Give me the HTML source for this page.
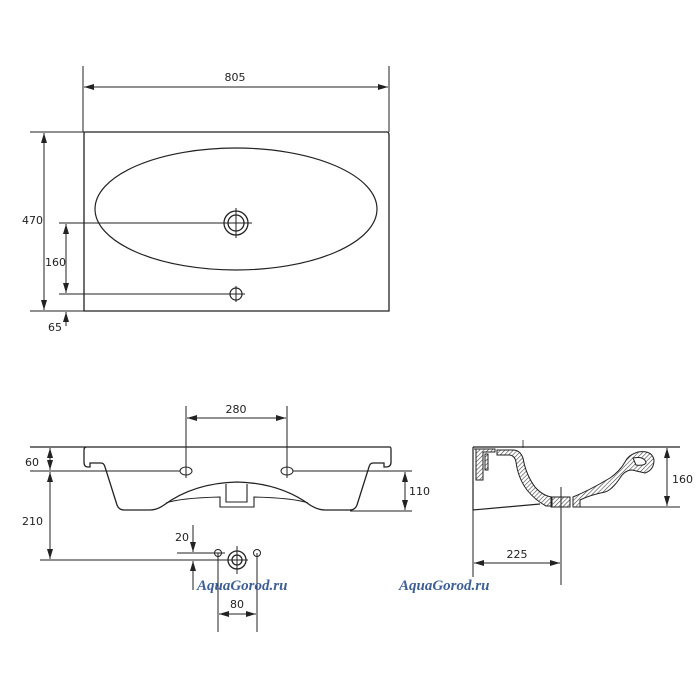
<!DOCTYPE html>
<html><head><meta charset="utf-8"><style>
html,body{margin:0;padding:0;background:#fff;}
svg{display:block}
text{font-family:"DejaVu Sans","Liberation Sans",sans-serif;font-size:11px;fill:#222}
.wm{font-family:"Liberation Serif",serif;font-style:italic;font-weight:bold;font-size:15px;fill:#3d5f93}
</style></head><body>
<svg width="700" height="700" viewBox="0 0 700 700" xmlns="http://www.w3.org/2000/svg">
<defs>
<marker id="a" viewBox="0 0 10 6" refX="10" refY="3" markerWidth="10" markerHeight="6" orient="auto-start-reverse" markerUnits="userSpaceOnUse"><path d="M0,0L10,3L0,6z" fill="#222"/></marker>
<pattern id="h" width="3" height="3" patternUnits="userSpaceOnUse" patternTransform="rotate(45)"><line x1="0" y1="0" x2="0" y2="3" stroke="#444" stroke-width="1.2"/></pattern>
</defs>
<g stroke="#222" fill="none" stroke-width="1">
<!-- TOP VIEW -->
<line x1="83" y1="66" x2="83" y2="132"/><line x1="389" y1="66" x2="389" y2="132"/>
<line x1="84" y1="87" x2="388" y2="87" marker-start="url(#a)" marker-end="url(#a)"/>
<path d="M85,132 L387,132 Q389,132 389,135 L389,311 L84,311 L84,134 Q84,132 85,132Z" stroke-width="1.3"/>
<ellipse cx="236" cy="209" rx="141" ry="61" stroke-width="1.2"/>
<circle cx="236" cy="223" r="12" stroke-width="1.3"/><circle cx="236" cy="223" r="8" stroke-width="1.3"/>
<line x1="236" y1="208" x2="236" y2="238"/><line x1="59" y1="223" x2="252" y2="223"/>
<circle cx="236" cy="294" r="6" stroke-width="1.2"/>
<line x1="236" y1="286" x2="236" y2="302"/><line x1="59" y1="294" x2="245" y2="294"/>
<line x1="30" y1="132" x2="84" y2="132"/><line x1="30" y1="311" x2="84" y2="311"/>
<line x1="44" y1="133" x2="44" y2="310" marker-start="url(#a)" marker-end="url(#a)"/>
<line x1="66" y1="224" x2="66" y2="293" marker-start="url(#a)" marker-end="url(#a)"/>
<line x1="66" y1="326" x2="66" y2="312" marker-end="url(#a)"/>
<!-- FRONT VIEW -->
<line x1="186" y1="406" x2="186" y2="478"/><line x1="287" y1="406" x2="287" y2="478"/>
<line x1="187" y1="418" x2="286" y2="418" marker-start="url(#a)" marker-end="url(#a)"/>
<path d="M30,447 L390,447 Q391,447 391,450 L391,462 Q391,467 386,467 L384,467 L384,463 L373,463 Q370,463 369,467 L357,505 Q355,510 350,510 L325,510 Q318,510 310,505 Q280,483 237,482 Q194,483 164,505 Q157,510 150,510 L124,510 Q119,510 117,505 L105,467 Q104,463 101,463 L90,463 L90,467 L88,467 Q84,467 84,462 L84,450 Q84,447 87,447" stroke-width="1.3"/>
<path d="M166,503 Q180,498 220,497 L220,507 L254,507 L254,497 Q294,498 308,503" stroke-width="1.1"/>
<path d="M226,484 L226,502 L247,502 L247,484" stroke-width="1.1"/>
<ellipse cx="186" cy="471" rx="6" ry="4"/><ellipse cx="287" cy="471" rx="6" ry="4"/>
<line x1="30" y1="471" x2="180" y2="471"/><line x1="293" y1="471" x2="412" y2="471"/>
<line x1="350" y1="511" x2="412" y2="511"/>
<line x1="405" y1="472" x2="405" y2="510" marker-start="url(#a)" marker-end="url(#a)"/>
<line x1="50" y1="448" x2="50" y2="470" marker-start="url(#a)" marker-end="url(#a)"/>
<line x1="50" y1="472" x2="50" y2="559" marker-start="url(#a)" marker-end="url(#a)"/>
<line x1="40" y1="560" x2="248" y2="560"/>
<line x1="177" y1="553" x2="225" y2="553"/>
<line x1="193" y1="525" x2="193" y2="552" marker-end="url(#a)"/>
<line x1="193" y1="590" x2="193" y2="561" marker-end="url(#a)"/>
<circle cx="218" cy="553" r="3.5"/><circle cx="257" cy="553" r="3.5"/>
<circle cx="237" cy="560" r="9" stroke-width="1.3"/><circle cx="237" cy="560" r="5" stroke-width="1.3"/>
<line x1="237" y1="546" x2="237" y2="574"/>
<line x1="218" y1="553" x2="218" y2="632"/><line x1="257" y1="553" x2="257" y2="632"/>
<line x1="219" y1="614" x2="256" y2="614" marker-start="url(#a)" marker-end="url(#a)"/>
<!-- SIDE VIEW -->
<line x1="473" y1="447" x2="680" y2="447" stroke-width="1.2"/>
<line x1="578" y1="507" x2="680" y2="507"/>
<path d="M473,447 L473,510 L540,504" stroke-width="1.2"/>
<line x1="473" y1="510" x2="473" y2="577"/>
<line x1="561" y1="487" x2="561" y2="585"/>
<line x1="474" y1="563" x2="560" y2="563" marker-start="url(#a)" marker-end="url(#a)"/>
<line x1="667" y1="448" x2="667" y2="506" marker-start="url(#a)" marker-end="url(#a)"/>
<path d="M474,449 L495,449 L495,452 L483,452 L483,480 L476,480 L476,449Z" fill="url(#h)"/>
<path d="M485,454 L485,470 L488,470 L488,454Z" fill="url(#h)"/>
<path d="M497,450 L513,450 Q520,450 523,458 Q526,475 535,487 Q543,496 552,497 L552,506 L546,506 Q535,500 527,490 Q518,478 516,462 Q515,456 510,455 L497,455Z" fill="url(#h)"/>
<path d="M551,497 L570,497 L570,507 L551,507Z" fill="url(#h)"/>
<path d="M573,507 L573,497 Q590,490 610,478 Q620,471 625,462 Q628,455 638,452 Q652,450 654,460 Q654,470 645,473 L632,470 Q625,470 620,478 Q612,490 605,492 Q590,495 580,500 L580,507Z" fill="url(#h)"/>
<path d="M633,458 Q645,456 646,463 Q644,466 636,465Z" fill="#fff"/>
<line x1="523" y1="440" x2="523" y2="448" stroke-width="0.8"/>
<line x1="561" y1="490" x2="561" y2="510"/>
</g>
<text x="235" y="81" text-anchor="middle">805</text>
<text x="22" y="224">470</text>
<text x="45" y="266">160</text>
<text x="48" y="331">65</text>
<text x="236" y="413" text-anchor="middle">280</text>
<text x="25" y="466">60</text>
<text x="22" y="525">210</text>
<text x="409" y="495">110</text>
<text x="175" y="541">20</text>
<text x="237" y="608" text-anchor="middle">80</text>
<text x="517" y="558" text-anchor="middle">225</text>
<text x="672" y="483">160</text>
<text class="wm" x="197" y="590">AquaGorod.ru</text>
<text class="wm" x="399" y="590">AquaGorod.ru</text>
</svg>
</body></html>
